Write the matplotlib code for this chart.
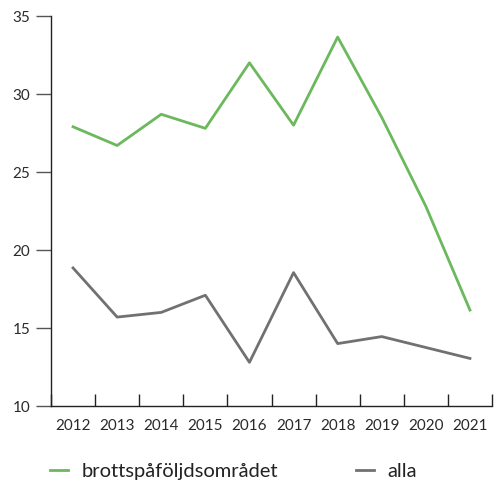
"""Linjediagram: brottspåföljdsområdet vs alla, 2012–2021."""

import matplotlib

matplotlib.use("Agg")
import matplotlib.pyplot as plt

plt.rcParams["font.family"] = ["Lato", "DejaVu Sans"]

years = ["2012", "2013", "2014", "2015", "2016", "2017", "2018", "2019", "2020", "2021"]
brott = [27.9, 26.7, 28.7, 27.8, 32.0, 28.0, 33.65, 28.5, 22.8, 16.15]
alla = [18.85, 15.7, 16.0, 17.1, 12.8, 18.55, 14.0, 14.45, 13.75, 13.05]

GREEN = "#6cb85d"
GRAY = "#717171"

fig = plt.figure(figsize=(4.95, 4.84), dpi=100)
ax = fig.add_axes([51 / 495, 1 - 406 / 484, (492 - 51) / 495, (406 - 16) / 484])

x = range(len(years))
ax.plot(x, brott, color=GREEN, linewidth=2.0, label="brottspåföljdsområdet")
ax.plot(x, alla, color=GRAY, linewidth=2.0, label="alla")

ax.set_xlim(-0.5, len(years) - 0.5)
ax.set_ylim(10, 35)
ax.set_yticks([10, 15, 20, 25, 30, 35])

# år-etiketter centrerade, tickmarkeringar på kategorigränserna
ax.set_xticks([i + 0.5 for i in range(-1, len(years))])
ax.set_xticklabels([])
ax.set_xticks(list(x), minor=True)
ax.set_xticklabels(years, minor=True)
ax.tick_params(axis="x", which="major", direction="in", length=9, width=1, color="#222222")
ax.tick_params(axis="x", which="minor", length=0, pad=9, labelsize=11, labelcolor="#2a2a2a")
ax.tick_params(axis="y", direction="out", length=11, width=1, color="#555555",
               labelsize=11, labelcolor="#2a2a2a", pad=4)

for side in ("top", "right"):
    ax.spines[side].set_visible(False)
for side in ("left", "bottom"):
    ax.spines[side].set_color("#222222")
    ax.spines[side].set_linewidth(1.0)

fig.legend(loc="center left", bbox_to_anchor=(50 / 495, 1 - 471 / 484), ncol=2,
           frameon=False, fontsize=14.5, handlelength=0.9, handletextpad=0.65,
           columnspacing=3.9, borderaxespad=0, borderpad=0, labelcolor="#222222")

fig.savefig("out.png", dpi=100)
